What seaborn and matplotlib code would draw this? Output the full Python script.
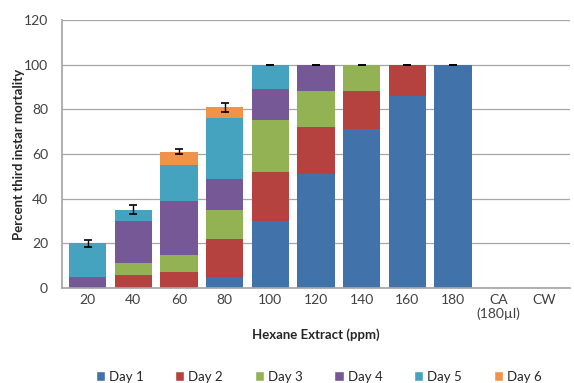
import matplotlib

matplotlib.use("Agg")
import matplotlib.pyplot as plt
import numpy as np
import pandas as pd
import seaborn as sns
from matplotlib.patches import Patch

# concentrations (x categories)
categories = ["20", "40", "60", "80", "100", "120", "140", "160", "180", "CA\n(180µl)", "CW"]

# mortality added on each day (percent), per concentration
day1 = [0, 0, 0, 5, 30, 51, 71, 86, 100, 0, 0]
day2 = [0, 6, 7, 17, 22, 21, 17, 14, 0, 0, 0]
day3 = [0, 5, 8, 13, 23, 16, 12, 0, 0, 0, 0]
day4 = [5, 19, 24, 14, 14, 12, 0, 0, 0, 0, 0]
day5 = [15, 5, 16, 27, 11, 0, 0, 0, 0, 0, 0]
day6 = [0, 0, 6, 5, 0, 0, 0, 0, 0, 0, 0]
errors = [1.5, 2, 1, 2, 0, 0, 0, 0, 0, None, None]

days = ["Day 1", "Day 2", "Day 3", "Day 4", "Day 5", "Day 6"]
colors = ["#4272AA", "#B5423F", "#92B254", "#765897", "#46A3C0", "#F0924A"]

df = pd.DataFrame(
    {"conc": categories, "Day 1": day1, "Day 2": day2, "Day 3": day3,
     "Day 4": day4, "Day 5": day5, "Day 6": day6}
)
cum = df[days].cumsum(axis=1)
cum.insert(0, "conc", categories)

sns.set_theme(style="white")
plt.rcParams["font.family"] = ["Lato", "DejaVu Sans"]

fig, ax = plt.subplots(figsize=(5.74, 3.83), dpi=100)
fig.subplots_adjust(left=0.108, right=0.993, top=0.948, bottom=0.248)

# draw cumulative totals from the top down so each segment stays visible
for day, col in zip(reversed(days), reversed(colors)):
    sns.barplot(data=cum, x="conc", y=day, order=categories, color=col,
                width=0.82, saturation=1, linewidth=0, ax=ax, zorder=2)

totals = cum["Day 6"].values
for i, (t, e) in enumerate(zip(totals, errors)):
    if e is None:
        continue
    ax.errorbar(i, t, yerr=e, fmt="none", ecolor="black", elinewidth=1,
                capsize=3, capthick=1.2, zorder=4)

ax.set_ylim(0, 120)
ax.set_yticks(range(0, 121, 20))
ax.set_xlim(-0.56, len(categories) - 0.44)
ax.yaxis.grid(True, color="#a6a6a6", linewidth=0.9, zorder=0)
ax.set_axisbelow(True)
for s in ["top", "right"]:
    ax.spines[s].set_visible(False)
for s in ["left", "bottom"]:
    ax.spines[s].set_color("#a6a6a6")
ax.tick_params(axis="both", labelsize=10, colors="#404040", length=0, pad=4)
ax.tick_params(axis="y", length=4, color="#a6a6a6", direction="out", pad=6)
ax.set_xticks(np.arange(-0.5, len(categories), 1), minor=True)
ax.tick_params(axis="x", which="minor", length=4, color="#a6a6a6", direction="out")

ax.set_ylabel("Percent third instar mortality", fontsize=9.5, fontweight="bold")
ax.yaxis.set_label_coords(-0.072, 0.5)
ax.set_xlabel("Hexane Extract (ppm)", fontsize=9.5, fontweight="bold", labelpad=6)

handles = [Patch(facecolor=c, label=d) for d, c in zip(days, colors)]
fig.legend(handles=handles, loc="lower center", ncol=6, frameon=False,
           fontsize=9.5, handlelength=0.7, handleheight=0.7, handletextpad=0.3,
           columnspacing=2.4, bbox_to_anchor=(0.555, -0.03))

fig.savefig("out.png", dpi=100)
